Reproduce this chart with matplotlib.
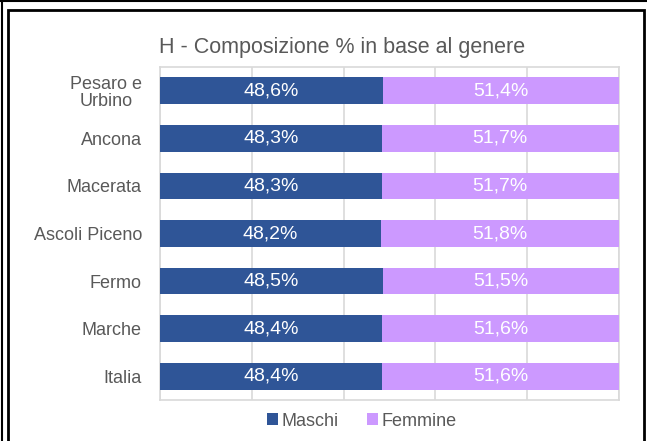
import matplotlib.pyplot as plt
import numpy as np

plt.rcParams['font.family'] = ['Liberation Sans', 'DejaVu Sans']

# Data
categories = ['Pesaro e\nUrbino', 'Ancona', 'Macerata', 'Ascoli Piceno', 'Fermo', 'Marche', 'Italia']
maschi = [48.6, 48.3, 48.3, 48.2, 48.5, 48.4, 48.4]
femmine = [51.4, 51.7, 51.7, 51.8, 51.5, 51.6, 51.6]
series_names = ['Maschi', 'Femmine']

blue = '#2F5597'
lilac = '#CC99FF'
text_col = '#595959'

fig = plt.figure(figsize=(6.47, 4.41), dpi=100)
fig.patch.set_facecolor('white')

# Outer frames
W, H = 647, 441
fig.add_artist(plt.Rectangle((8 / W, -0.05), (644 - 8) / W, (441 - 10) / H + 0.05,
                             transform=fig.transFigure, fill=False,
                             edgecolor='black', linewidth=2))
fig.add_artist(plt.Line2D([0, 1], [1 - 1 / H, 1 - 1 / H], transform=fig.transFigure,
                          color='black', linewidth=1.5))
fig.add_artist(plt.Line2D([2 / W, 2 / W], [0, 1], transform=fig.transFigure,
                          color='black', linewidth=1.5))

ax = fig.add_axes([160 / W, 1 - 400 / H, (619 - 160) / W, (400 - 67) / H])
y = np.arange(len(categories))
h = 0.56
ax.barh(y, maschi, height=h, color=blue, zorder=3, label=series_names[0])
ax.barh(y, femmine, left=maschi, height=h, color=lilac, zorder=3, label=series_names[1])

for i in range(len(categories)):
    ax.text(maschi[i] / 2, y[i], f'{maschi[i]:.1f}%'.replace('.', ','), ha='center', va='center',
            color='white', fontsize=14, zorder=4)
    ax.text(maschi[i] + femmine[i] / 2, y[i], f'{femmine[i]:.1f}%'.replace('.', ','), ha='center',
            va='center', color='white', fontsize=14, zorder=4)

ax.set_xlim(0, 100)
ax.set_ylim(len(categories) - 0.5, -0.5)
ax.set_xticks(np.arange(0, 101, 20))
ax.xaxis.grid(True, color='#D9D9D9', linewidth=1.2, zorder=0)
ax.tick_params(axis='x', length=0, labelbottom=False)
ax.tick_params(axis='y', length=0, pad=13)
ax.set_yticks(y)
ax.set_yticklabels(categories, fontsize=13, color=text_col, linespacing=1.0)
for lbl in ax.get_yticklabels():
    lbl.set_multialignment('center')
for s in ax.spines.values():
    s.set_color('#D9D9D9')
    s.set_linewidth(1.2)

fig.text(342 / W, 1 - 47 / H, 'H - Composizione % in base al genere', ha='center', va='center',
         fontsize=15.5, color=text_col)

handles, labels = ax.get_legend_handles_labels()
fig.legend(handles, labels, loc='center', bbox_to_anchor=(362 / W, 1 - 421 / H), ncol=2,
           frameon=False, fontsize=13, handlelength=0.6, handleheight=0.6,
           handletextpad=0.2, columnspacing=1.6, labelcolor=text_col)

fig.savefig('out.png', dpi=100, facecolor='white')
